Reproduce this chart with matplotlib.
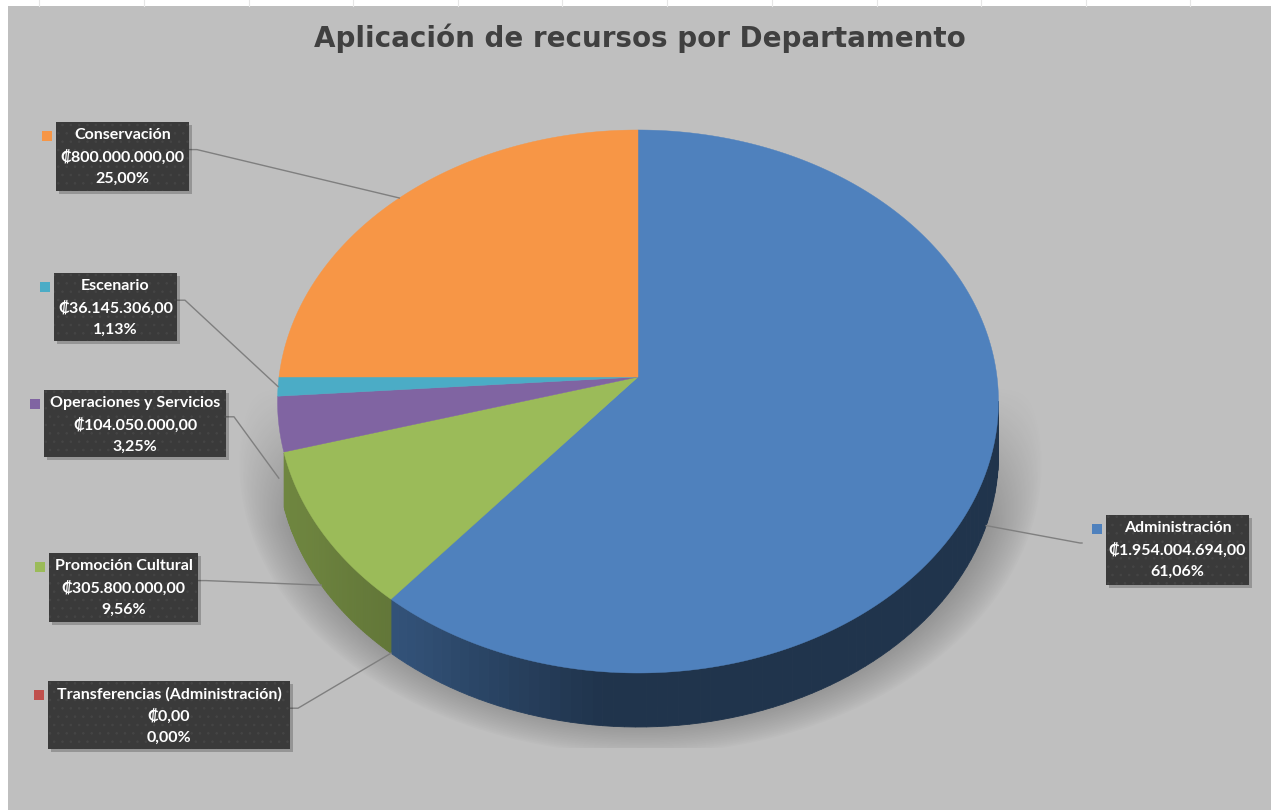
import numpy as np
import matplotlib
matplotlib.use("Agg")
import matplotlib.pyplot as plt
from matplotlib.patches import Rectangle, Polygon

# data
departamentos = ["Administración", "Transferencias (Administración)", "Promoción Cultural",
                 "Operaciones y Servicios", "Escenario", "Conservación"]
montos = [1954004694.00, 0.00, 305800000.00, 104050000.00, 36145306.00, 800000000.00]
colores = ["#4F81BD", "#C0504D", "#9BBB59", "#8064A2", "#4BACC6", "#F79646"]

# label boxes (x0, y0, x1, y1) in pixels
cajas = [(1106, 515, 1249, 585), (48, 681, 290, 749), (49, 553, 198, 622),
         (44, 390, 226, 457), (54, 273, 177, 341), (56, 122, 189, 191)]
lado = ["left", "right", "right", "right", "right", "right"]

W, H = 1271, 810
cx, cy, a, b, k, depth = 638, 377, 359, 269.3, 0.0902, 54

plt.rcParams["hatch.linewidth"] = 0.6


def proj(t, r=1.0):
    t = np.radians(t)
    u, v = r * np.cos(t), r * np.sin(t)
    den = 1 + k * v
    return cx + a * u / den, cy - b * v / den


def fmt_num(v):
    s = f"{v:,.2f}"
    return s.replace(",", "X").replace(".", ",").replace("X", ".")


fig = plt.figure(figsize=(W / 100, H / 100), dpi=100, facecolor="white")
ax = fig.add_axes([0, 0, 1, 1])
ax.set_xlim(0, W)
ax.set_ylim(H, 0)
ax.axis("off")

ax.add_patch(Rectangle((8, 6), W - 8, H - 6, facecolor="#BFBFBF", edgecolor="none", zorder=0))
for gx in [39, 144, 249, 353, 458, 562, 667, 772, 877, 981, 1086, 1190]:
    ax.plot([gx, gx], [0, 6], color="#E6E6E6", lw=0.8, zorder=0)

# soft shadow under the pie
yy, xx = np.mgrid[0:H, 0:W]
r = np.sqrt(((xx - 640) / 402.0) ** 2 + ((yy - 462) / 292.0) ** 2)
g = np.clip((1.0 - r) / 0.17, 0, 1) ** 0.8
fade = np.clip((yy - 385) / 140.0, 0, 1)
alpha = 0.32 * g * fade
alpha[yy > 747] = 0
alpha[(xx < 8) | (yy < 6)] = 0
sh = np.zeros((H, W, 4))
sh[..., 3] = alpha
ax.imshow(sh, extent=(0, W, H, 0), zorder=1, interpolation="bilinear")

total = sum(montos)
fracs = [m / total for m in montos]
angs = [90.0]
for f in fracs:
    angs.append(angs[-1] - 360 * f)

lo = -164.0
hi = -np.degrees(np.arcsin(k))
shade_t = [-180, -150, -125, -95, 0]
shade_f = [0.74, 0.70, 0.62, 0.40, 0.40]

# sides
for i, col in enumerate(colores):
    t0, t1 = angs[i], angs[i + 1]
    s0, s1 = max(t1, lo), min(t0, hi)
    if s1 <= s0:
        continue
    ts = np.linspace(s1, s0, 80)
    base = np.array(matplotlib.colors.to_rgb(col))
    for j in range(len(ts) - 1):
        x0, y0 = proj(ts[j])
        x1, y1 = proj(ts[j + 1])
        fac = np.interp(0.5 * (ts[j] + ts[j + 1]), shade_t, shade_f)
        c = np.clip(base * fac, 0, 1)
        ax.add_patch(Polygon([(x0, y0), (x1, y1), (x1, y1 + depth), (x0, y0 + depth)],
                             closed=True, facecolor=c, edgecolor=c, lw=0.6, zorder=2))

# tops
for i, col in enumerate(colores):
    t0, t1 = angs[i], angs[i + 1]
    if t0 - t1 <= 0:
        continue
    ts = np.linspace(t0, t1, max(int((t0 - t1) * 2), 4))
    xs, ys = proj(ts)
    pts = [(cx, cy)] + list(zip(xs, ys))
    ax.add_patch(Polygon(pts, closed=True, facecolor=col, edgecolor=col, lw=0.3, zorder=3))

# labels
fam = ["Lato", "DejaVu Sans"]
for i, nombre in enumerate(departamentos):
    x0, y0, x1, y1 = cajas[i]
    w, h = x1 - x0, y1 - y0
    ax.add_patch(Rectangle((x0 + 3, y0 + 3), w, h, facecolor="#000000", alpha=0.22,
                           edgecolor="none", zorder=5))
    ax.add_patch(Rectangle((x0, y0), w, h, facecolor="#3A3A3A", edgecolor="#454545",
                           hatch="..", lw=0, zorder=6))
    ax.add_patch(Rectangle((x0 - 14, y0 + 9), 10, 10, facecolor=colores[i],
                           edgecolor="none", zorder=6))
    pct = fmt_num(fracs[i] * 100) + "%"
    lines = [nombre, "₡" + fmt_num(montos[i]), pct]
    for j, s in enumerate(lines):
        ax.text((x0 + x1) / 2, y0 + 13 + 22 * j, s, color="white", fontsize=11.5,
                fontweight="bold", family=fam, ha="center", va="center", zorder=7)

    # leader line
    tm = 0.5 * (angs[i] + angs[i + 1])
    px, py = proj(tm)
    if np.sin(np.radians(tm)) < -0.1:
        py += depth
    ly = y0 + 0.4 * h
    if lado[i] == "right":
        ex = x1
        ax.plot([ex, ex + 8, px], [ly, ly, py], color="#7F7F7F", lw=1.0, zorder=4)
    else:
        ex = x0 - 24
        ax.plot([px, ex - 2, ex], [py, ly, ly], color="#7F7F7F", lw=1.0, zorder=4)

ax.text(640, 38, "Aplicación de recursos por Departamento", color="#404040",
        fontsize=20, fontweight="bold", family="DejaVu Sans", ha="center", va="center",
        zorder=7)

fig.savefig("out.png", dpi=100, facecolor=fig.get_facecolor())
